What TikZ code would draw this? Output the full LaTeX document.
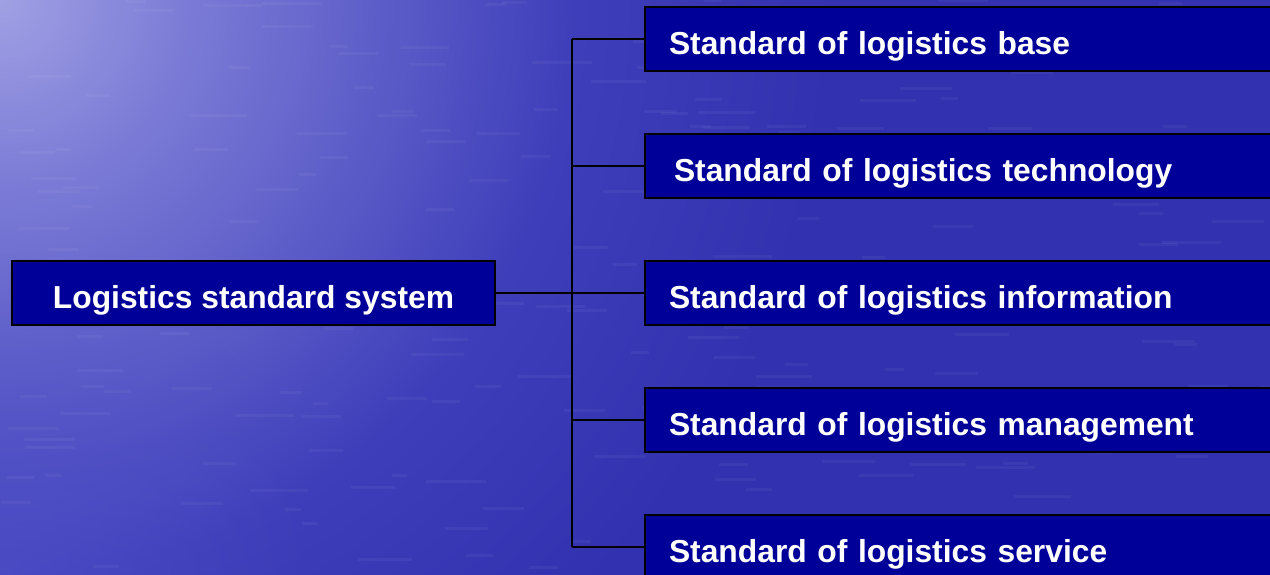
\documentclass[tikz,border=0pt]{standalone}
\usepackage{fontspec}
\setmainfont{Liberation Sans}
\usetikzlibrary{fadings}
\definecolor{bgA}{RGB}{160,160,228}
\definecolor{bgB}{RGB}{122,122,214}
\definecolor{bgC}{RGB}{92,92,200}
\definecolor{bgD}{RGB}{62,62,186}
\definecolor{bgE}{RGB}{50,50,176}
\definecolor{bgL}{RGB}{82,82,202}
\definecolor{boxblue}{RGB}{0,0,153}
\pgfdeclareradialshading{bgshade}{\pgfpoint{0bp}{0bp}}{color(0bp)=(bgA); color(3bp)=(bgB); color(6bp)=(bgC); color(9bp)=(bgD); color(13bp)=(bgE); color(50bp)=(bgE)}
\tikzfading[name=softspot, inner color=transparent!0, outer color=transparent!100]
\tikzset{
  boxstyle/.style={draw=black, line width=2pt, fill=boxblue, text=white,
    font=\bfseries\fontsize{31.8}{36}\selectfont, minimum height=64pt, inner ysep=0pt,
    text height=22.8pt, text depth=0pt},
  rbox/.style={boxstyle, anchor=north west, text width=580pt, inner xsep=24pt, align=left},
  link/.style={draw=black, line width=2pt},
  streak/.style={draw=white, line width=3pt, opacity=0.045}
}
\newcommand{\lowtext}[1]{\raisebox{-4pt}{#1}}
\begin{document}
\begin{tikzpicture}[x=1pt,y=-1pt]
\useasboundingbox (0,0) rectangle (1270,575);
\begin{scope}
\clip (0,0) rectangle (1270,575);
\fill[bgE] (0,0) rectangle (1270,575);
\shade[shading=bgshade] (0,0) circle (1600);
\fill[bgL, opacity=0.6, path fading=softspot] (0,575) circle (320);
\pgfmathsetseed{11}
\foreach \i in {1,...,220} {
  \pgfmathsetmacro{\sx}{rnd*1270}
  \pgfmathsetmacro{\sy}{rnd*575}
  \pgfmathsetmacro{\sl}{15+rnd*45}
  \draw[streak] (\sx,\sy) -- ++(\sl,0);
}
\node[boxstyle, anchor=north west, minimum width=483pt, inner xsep=0pt] (root) at (11,260) {\lowtext{Logistics standard system}};
\node[rbox] (b1) at (644,6) {\lowtext{Standard of logistics base}};
\node[rbox] (b2) at (644,133) {\hspace*{5pt}\lowtext{Standard of logistics technology}};
\node[rbox] (b3) at (644,260) {\lowtext{Standard of logistics information}};
\node[rbox] (b4) at (644,387) {\lowtext{Standard of logistics management}};
\node[rbox] (b5) at (644,514) {\lowtext{Standard of logistics service}};
\coordinate (tr) at (572,0);
\draw[link] (b1.west -| tr) -- (b5.west -| tr);
\foreach \b in {b1,b2,b3,b4,b5} \draw[link] (\b.west -| tr) -- (\b.west);
\draw[link] (root.east) -- (b3.west);
\end{scope}
\end{tikzpicture}
\end{document}
